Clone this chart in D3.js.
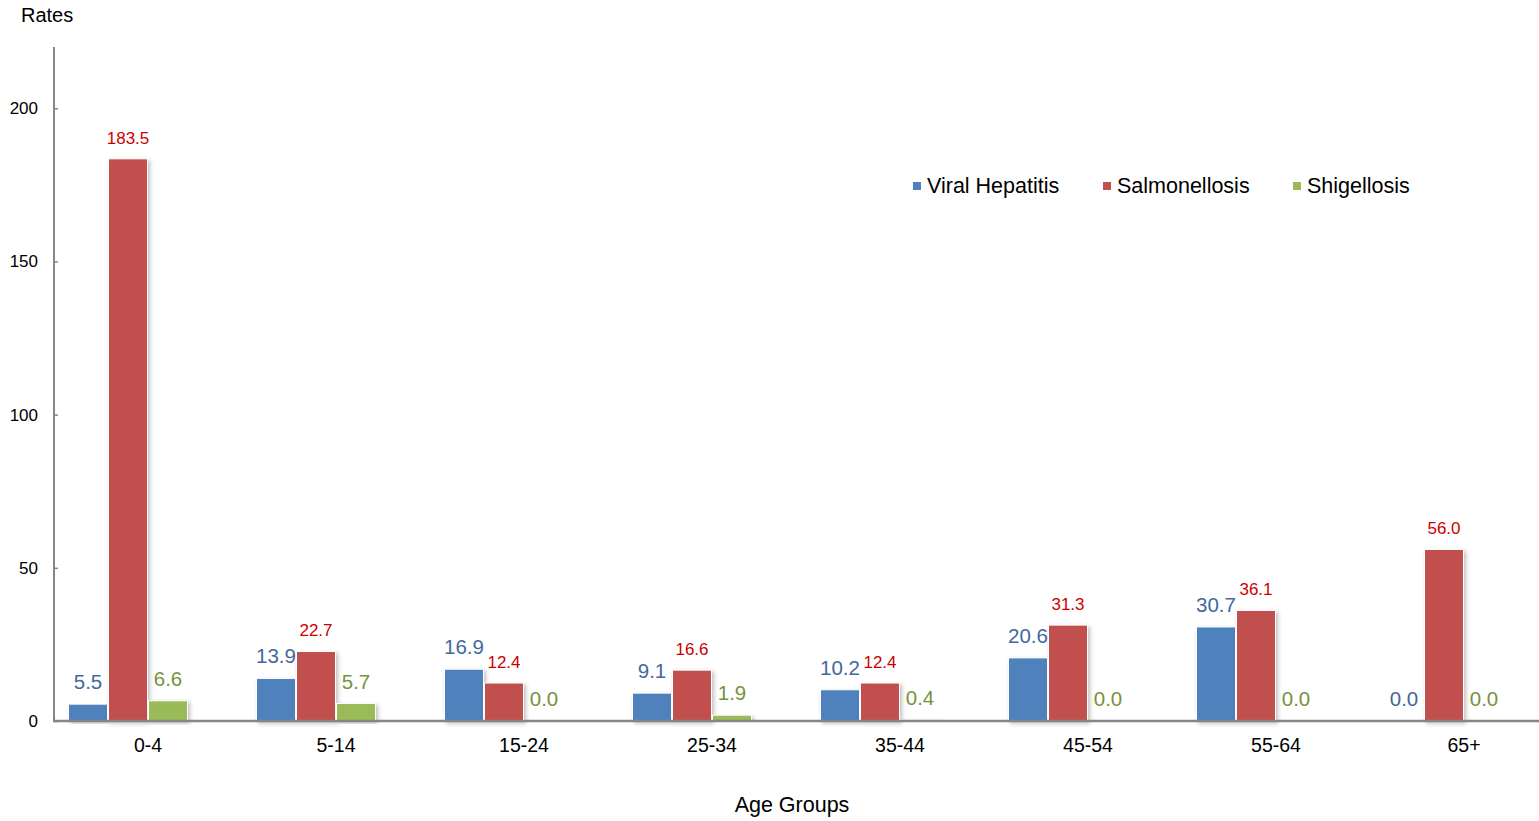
<!DOCTYPE html>
<html>
<head>
<meta charset="utf-8">
<script src="https://cdn.jsdelivr.net/npm/d3@7/dist/d3.min.js"></script>
<style>
  body { margin: 0; background: #fff; }
  svg { display: block; font-family: "Liberation Sans", Arial, sans-serif; }
</style>
</head>
<body>
<svg id="chart"></svg>
<script>
const ageGroups = ['0-4', '5-14', '15-24', '25-34', '35-44', '45-54', '55-64', '65+'];
const seriesNames = ['Viral Hepatitis', 'Salmonellosis', 'Shigellosis'];
const viralHepatitis = [5.5, 13.9, 16.9, 9.1, 10.2, 20.6, 30.7, 0.0];
const salmonellosis = [183.5, 22.7, 12.4, 16.6, 12.4, 31.3, 36.1, 56.0];
const shigellosis = [6.6, 5.7, 0.0, 1.9, 0.4, 0.0, 0.0, 0.0];
const yTicks = [0, 50, 100, 150, 200];

const barColors = ['#4f81bd', '#c0504d', '#9bbb59'];
const labelColors = ['#44689e', '#cc0000', '#77933c'];
const labelSizes = [20.5, 17, 20.5];

const width = 1539, height = 821;
const svg = d3.select('#chart')
  .attr('width', width)
  .attr('height', height);

const defs = svg.append('defs');
defs.append('filter')
  .attr('id', 'shadow')
  .attr('x', '-20%').attr('y', '-5%')
  .attr('width', '150%').attr('height', '120%')
  .append('feDropShadow')
  .attr('dx', 2).attr('dy', 2)
  .attr('stdDeviation', 2)
  .attr('flood-color', '#000')
  .attr('flood-opacity', 0.25);

const x0 = 54, y0 = 721;
const x = d3.scaleBand()
  .domain(ageGroups)
  .range([x0, x0 + 188 * ageGroups.length]);
const xSub = d3.scaleBand()
  .domain(seriesNames)
  .range([14, 134]);
const y = d3.scaleLinear()
  .domain([0, 220])
  .range([y0, 47]);

const series = [viralHepatitis, salmonellosis, shigellosis];
const data = [];
ageGroups.forEach((g, i) => {
  series.forEach((s, j) => {
    data.push({ group: g, name: seriesNames[j], idx: j, value: s[i] });
  });
});

// bars
svg.append('g')
  .selectAll('rect')
  .data(data.filter(d => d.value > 0))
  .enter()
  .append('rect')
  .attr('x', d => x(d.group) + xSub(d.name) + 0.5)
  .attr('y', d => y(d.value))
  .attr('width', xSub.bandwidth() - 1)
  .attr('height', d => y0 - y(d.value))
  .attr('fill', d => barColors[d.idx])
  .attr('stroke', '#fff')
  .attr('stroke-width', 1)
  .attr('filter', 'url(#shadow)');

// value labels
svg.append('g')
  .selectAll('text')
  .data(data)
  .enter()
  .append('text')
  .attr('x', d => x(d.group) + xSub(d.name) + xSub.bandwidth() / 2)
  .attr('y', d => y(d.value) - 15)
  .attr('text-anchor', 'middle')
  .attr('font-size', d => labelSizes[d.idx] + 'px')
  .attr('fill', d => labelColors[d.idx])
  .text(d => d.value.toFixed(1));

// axes
const yAxis = d3.axisRight(y)
  .tickValues(yTicks)
  .tickSize(4)
  .tickFormat(d3.format('d'));
const gy = svg.append('g')
  .attr('transform', 'translate(' + x0 + ',0)')
  .call(yAxis);
gy.select('.domain').remove();
gy.selectAll('.tick line').attr('stroke', '#868686').attr('stroke-width', 1.5);
gy.selectAll('.tick text')
  .attr('x', -16)
  .attr('text-anchor', 'end')
  .attr('font-size', '17px')
  .attr('font-family', '"Liberation Sans", Arial, sans-serif')
  .attr('fill', '#000');

svg.append('line')
  .attr('x1', x0).attr('x2', x0)
  .attr('y1', 47).attr('y2', y0 + 1)
  .attr('stroke', '#868686').attr('stroke-width', 2);
svg.append('line')
  .attr('x1', x0 - 1).attr('x2', width)
  .attr('y1', y0).attr('y2', y0)
  .attr('stroke', '#868686').attr('stroke-width', 2.5);

// category labels
svg.append('g')
  .selectAll('text')
  .data(ageGroups)
  .enter()
  .append('text')
  .attr('x', d => x(d) + x.bandwidth() / 2)
  .attr('y', 752)
  .attr('text-anchor', 'middle')
  .attr('font-size', '19.5px')
  .attr('fill', '#000')
  .text(d => d);

// axis titles
svg.append('text')
  .attr('x', 21).attr('y', 22)
  .attr('font-size', '20px')
  .text('Rates');
svg.append('text')
  .attr('x', 792).attr('y', 812)
  .attr('text-anchor', 'middle')
  .attr('font-size', '21.5px')
  .text('Age Groups');

// legend
const legendX = [913, 1103, 1293];
const legend = svg.append('g')
  .selectAll('g')
  .data(seriesNames)
  .enter()
  .append('g')
  .attr('transform', (d, i) => 'translate(' + legendX[i] + ',182)');
legend.append('rect')
  .attr('width', 8).attr('height', 8)
  .attr('fill', (d, i) => barColors[i]);
legend.append('text')
  .attr('x', 14).attr('y', 11)
  .attr('font-size', '21.5px')
  .attr('fill', '#000')
  .text(d => d);
</script>
</body>
</html>
